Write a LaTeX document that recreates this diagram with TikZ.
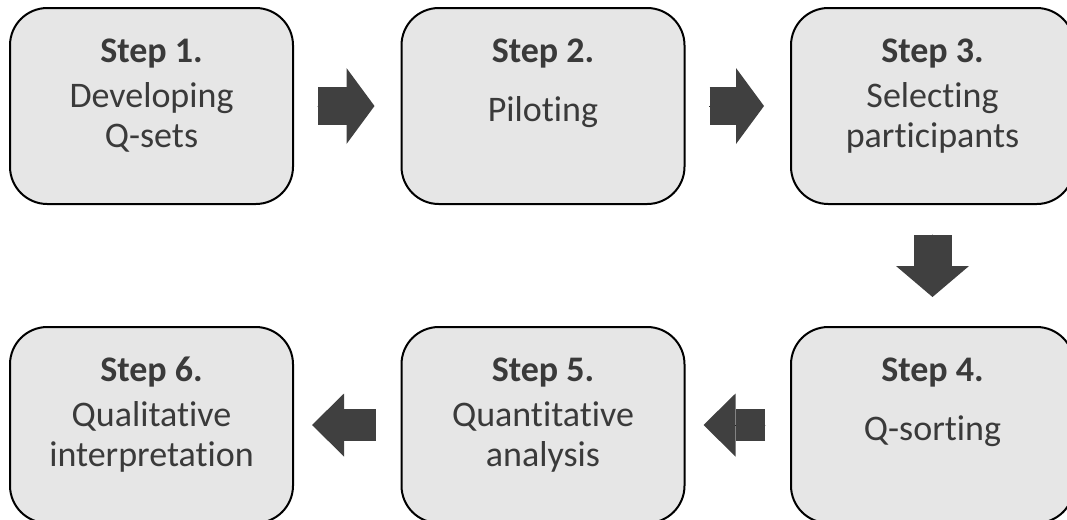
\documentclass[tikz,border=0pt]{standalone}
\usepackage{fontspec}
\setmainfont[Ligatures=NoCommon]{Carlito}
\usepackage{tikz}
\usetikzlibrary{arrows.meta}
\definecolor{boxgray}{HTML}{E6E6E6}
\definecolor{arrgray}{HTML}{404040}
\definecolor{txtgray}{HTML}{3A3A3A}

\begin{document}
\begin{tikzpicture}[line cap=round,line join=round,x=0.75pt,y=-0.75pt,
    stepbox/.style={draw=black,line width=1.5pt,fill=boxgray,rounded corners=28pt,
      minimum width=212.25pt,minimum height=147pt,inner sep=0pt,outer sep=0pt},
    steptext/.style={anchor=north,align=center,inner sep=0pt,text=txtgray,
      font=\fontsize{27}{30}\selectfont,yshift=-19.5pt},
    rarr/.style={draw=arrgray,line cap=butt,line width=28.5pt,
      -{Triangle[length=21pt,width=57pt,line width=0pt]},
      shorten <=18.75pt,shorten >=20.25pt,
      preaction={draw,-,shorten >=37.25pt}},
    darr/.style={draw=arrgray,line cap=butt,line width=28.5pt,
      -{Triangle[length=23.25pt,width=54.75pt,line width=0pt]},
      shorten <=23.25pt,shorten >=22.5pt,
      preaction={draw,-,shorten >=41.75pt}},
    larr/.style={draw=arrgray,line cap=butt,line width=24pt,
      -{Triangle[length=24pt,width=47.25pt,line width=0pt]},
      shorten <=19.5pt,shorten >=14.25pt,
      preaction={draw,-,shorten >=34.25pt}}]
        \useasboundingbox (0,0) rectangle (1067,519);
        \clip (0,0) rectangle (1067,519);
        % boxes
        \foreach \n/\x/\y in {1/151.5/106,2/543/106,3/932.5/106,4/932.5/425,5/543/425,6/151.5/425}
        \node[stepbox] (b\n) at (\x,\y) {};
        % texts
        \node[steptext] (t1) at (b1.north) {\strut\textbf{Step 1.}\\[3.75pt]\strut Developing\\\strut Q-sets};
        \node[steptext] (t2) at (b2.north) {\strut\textbf{Step 2.}\\[14.25pt]\strut Piloting};
        \node[steptext] (t3) at (b3.north) {\strut\textbf{Step 3.}\\[3.75pt]\strut Selecting\\\strut participants};
        \node[steptext] (t4) at (b4.north) {\strut\textbf{Step 4.}\\[14.25pt]\strut Q-sorting};
        \node[steptext] (t5) at (b5.north) {\strut\textbf{Step 5.}\\[3.75pt]\strut Quantitative\\\strut analysis};
        \node[steptext] (t6) at (b6.north) {\strut\textbf{Step 6.}\\[3.75pt]\strut Qualitative\\\strut interpretation};
        % arrows
        \draw[rarr] (b1) -- (b2);
        \draw[rarr] (b2) -- (b3);
        \draw[darr] (b3) -- (b4);
        \draw[larr] (b4) -- (b5);
        \draw[larr] (b5) -- (b6);
\end{tikzpicture}
\end{document}
